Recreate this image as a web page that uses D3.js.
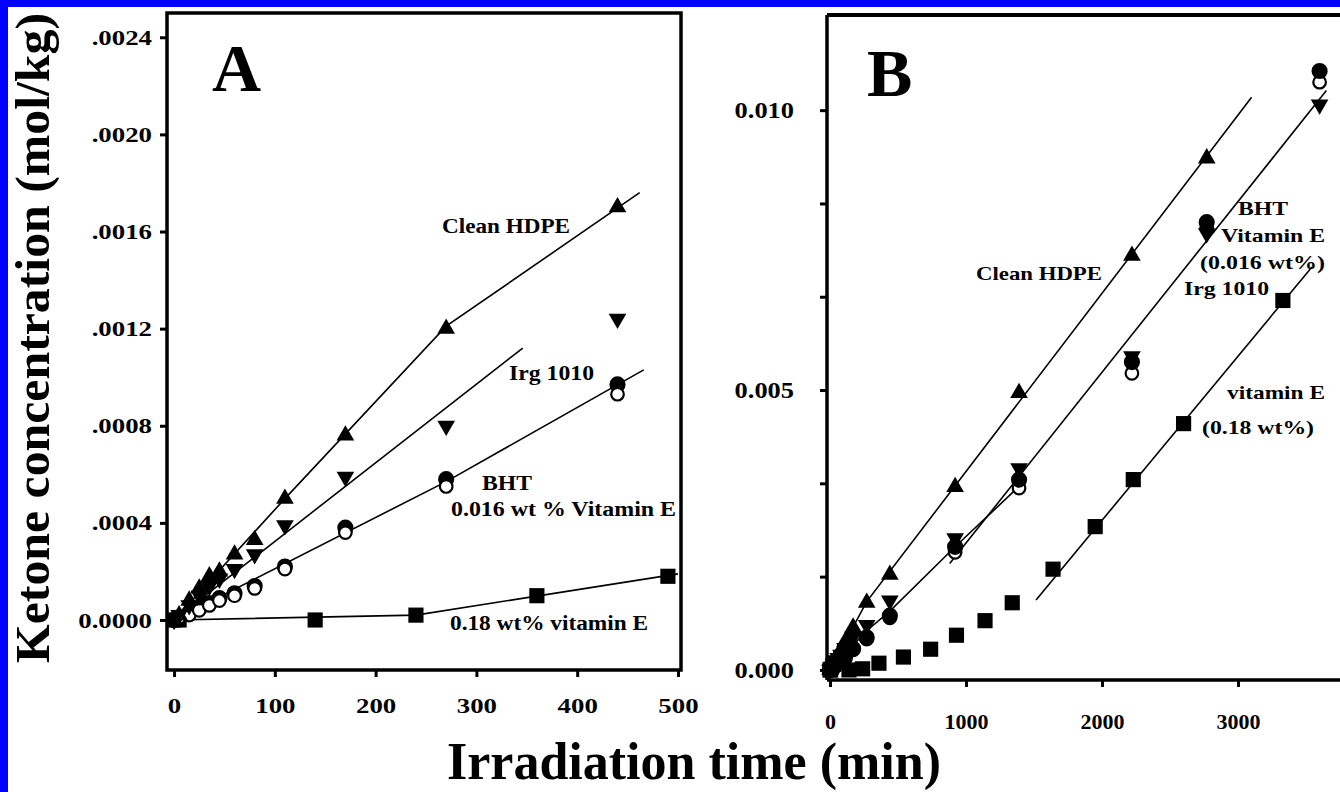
<!DOCTYPE html>
<html>
<head>
<meta charset="utf-8">
<script src="https://cdn.jsdelivr.net/npm/d3@7"></script>
<style>
  body { margin: 0; background: #0000ff; }
  text { font-family: "Liberation Serif", "Times New Roman", serif; font-weight: bold; fill: #000; }
</style>
</head>
<body>
<div id="canvas"></div>
<script>
// ---- panel A data (time in min, ketone in mol/kg)
const timesA = [0, 5, 15, 25, 35, 45, 60, 80, 110, 170, 270, 440];
const cleanA = [0, 0.00002, 0.00008, 0.00013, 0.00018, 0.0002, 0.00027, 0.00033, 0.0005, 0.00076, 0.0012, 0.0017];
const irgA = [0, 0.00002, 0.00006, 0.0001, 0.00014, 0.00017, 0.00021, 0.00027, 0.00039, 0.00059, 0.0008, 0.00124];
const bhtA = [0, 0.00001, 0.00003, 0.00005, 0.00007, 0.00009, 0.00011, 0.00014, 0.00022, 0.00038, 0.00058, 0.00097];
const vitE016A = [0, 0.00001, 0.00002, 0.00004, 0.00006, 0.00008, 0.0001, 0.00013, 0.00021, 0.00036, 0.00055, 0.00093];
const timesE18A = [0, 5, 140, 240, 360, 490];
const vitE18A = [0, 0, 0, 0.00002, 0.0001, 0.00018];

// fitted lines, panel A
const cleanFitA = [[0, 0], [110, 0.0005], [270, 0.00121], [462, 0.00176]];
const irgFitA = [[0, 0], [346, 0.00112]];
const bhtFitA = [[0, 0], [270, 0.00057], [466, 0.00103]];
const vitE18FitA = [[0, 0], [240, 0.00002], [500, 0.00019]];

// ---- panel B data (long irradiation)
const timesLate = [920, 1390, 2220, 2770, 3600];
const cleanLate = [0.00327, 0.00495, 0.0074, 0.00914];
const irgLate = [0.00235, 0.0036, 0.0056, 0.0078, 0.0101];
const bhtLate = [0.0022, 0.0034, 0.0055, 0.008, 0.0107];
const vitE016Late = [0.0021, 0.00325, 0.0053, 0.0079, 0.0105];
const timesE18B = [0, 5, 140, 240, 360, 540, 740, 930, 1140, 1340, 1640, 1950, 2230, 2600, 3330];
const vitE18B = [0, 0, 0, 0.00002, 0.00012, 0.00023, 0.00037, 0.00062, 0.00088, 0.0012, 0.0018, 0.00256, 0.0034, 0.0044, 0.0066];

const cleanFitB = [[0, 0], [270, 0.00122], [3100, 0.01023]];
const bhtFitB1 = [[0, 0], [270, 0.0007], [440, 0.00105], [920, 0.0022], [1400, 0.0033]];
const bhtFitB2 = [[880, 0.0019], [3650, 0.01035]];
const vitE18FitB = [[1515, 0.00125], [3544, 0.0072]];

// ticks
const xTicksA = [0, 100, 200, 300, 400, 500];
const yTicksA = [0, 0.0004, 0.0008, 0.0012, 0.0016, 0.002, 0.0024];
const yLabelsA = ["0.0000", ".0004", ".0008", ".0012", ".0016", ".0020", ".0024"];
const xTicksB = [0, 1000, 2000, 3000];
const yTicksB = [0, 1, 2, 3, 4, 5, 6].map((k) => (k * 0.005) / 3);
const yLabelsB = { 0: "0.000", 3: "0.005", 6: "0.010" };

const zip = (t, v) => v.map((d, i) => [t[i], d]);

const width = 1340;
const height = 792;

const svg = d3.select("#canvas").append("svg")
  .attr("width", width)
  .attr("height", height);

svg.append("rect").attr("width", width).attr("height", height).attr("fill", "#0000ff");
svg.append("rect").attr("x", 8).attr("y", 7).attr("width", width - 8).attr("height", height - 7).attr("fill", "#fff");

// scales
const xA = d3.scaleLinear().domain([-7, 503]).range([167, 681]);
const yA = d3.scaleLinear().domain([-0.000206, 0.0025]).range([670, 13]);
const xB = d3.scaleLinear().domain([-22, 3750]).range([827, 1340]);
const yB = d3.scaleLinear().domain([-0.00018, 0.0117]).range([680, 15]);

// the scanned lettering is a bit wider than the font
function widen(sel, k) {
  sel.each(function () {
    const w = this.getComputedTextLength();
    if (w > 0) d3.select(this).attr("textLength", w * k).attr("lengthAdjust", "spacingAndGlyphs");
  });
}

function styleAxis(size, k) {
  return (g) => {
    g.select(".domain").remove();
    g.selectAll(".tick line").attr("stroke", "#000").attr("stroke-width", 3);
    g.selectAll(".tick text").style("font-size", size + "px").attr("fill", "#000").call(widen, k);
  };
}

// ---------- panel A
const gA = svg.append("g");
gA.append("rect")
  .attr("x", xA(-7)).attr("y", yA(0.0025))
  .attr("width", xA(503) - xA(-7)).attr("height", yA(-0.000206) - yA(0.0025))
  .attr("fill", "none").attr("stroke", "#000").attr("stroke-width", 3.5);

gA.append("g")
  .attr("transform", `translate(${xA(-7)},0)`)
  .call(d3.axisLeft(yA).tickValues(yTicksA).tickSize(7).tickPadding(8)
    .tickFormat((d, i) => yLabelsA[i]))
  .call(styleAxis(22, 1.22));

gA.append("g")
  .attr("transform", `translate(0,${yA(-0.000206)})`)
  .call(d3.axisBottom(xA).tickValues(xTicksA).tickSize(7).tickPadding(20))
  .call(styleAxis(22, 1.22));

// ---------- panel B
const gB = svg.append("g");
gB.append("line")
  .attr("x1", xB(-22)).attr("x2", width).attr("y1", yB(0.0117)).attr("y2", yB(0.0117))
  .attr("stroke", "#000").attr("stroke-width", 4);

gB.append("g")
  .attr("transform", `translate(${xB(-22)},0)`)
  .call(d3.axisLeft(yB).tickValues(yTicksB).tickSize(7).tickPadding(26)
    .tickFormat((d, i) => yLabelsB[i] || ""))
  .call(styleAxis(24, 1.1))
  .call((g) => g.append("line").attr("y1", yB(-0.00018)).attr("y2", yB(0.0117))
    .attr("stroke", "#000").attr("stroke-width", 3.5));

gB.append("g")
  .attr("transform", `translate(0,${yB(-0.00018)})`)
  .call(d3.axisBottom(xB).tickValues(xTicksB).tickSize(7).tickPadding(26).tickFormat(d3.format("d")))
  .call(styleAxis(22, 1.0))
  .call((g) => g.append("line").attr("x1", xB(-22)).attr("x2", width)
    .attr("stroke", "#000").attr("stroke-width", 3.5));

// ---------- drawing helpers
function fitLine(g, x, y, pts) {
  g.append("path")
    .attr("d", d3.line().x((d) => x(d[0])).y((d) => y(d[1]))(pts))
    .attr("fill", "none").attr("stroke", "#000").attr("stroke-width", 1.6);
}

function markers(g, x, y, pts, kind) {
  const sel = g.append("g").selectAll("path").data(pts).enter();
  if (kind === "open" || kind === "dot") {
    sel.append("circle")
      .attr("cx", (d) => x(d[0])).attr("cy", (d) => y(d[1]))
      .attr("r", kind === "open" ? 6.3 : 7)
      .attr("fill", kind === "open" ? "#fff" : "#000")
      .attr("stroke", "#000").attr("stroke-width", 2.2);
    return;
  }
  const sym = kind === "square" ? d3.symbolSquare : d3.symbolTriangle;
  const size = kind === "square" ? 230 : 135;
  sel.append("path")
    .attr("d", d3.symbol().type(sym).size(size))
    .attr("transform", (d) => `translate(${x(d[0])},${y(d[1])})` + (kind === "down" ? " rotate(180)" : ""))
    .attr("fill", "#000");
}

// panel A marks
fitLine(gA, xA, yA, cleanFitA);
fitLine(gA, xA, yA, irgFitA);
fitLine(gA, xA, yA, bhtFitA);
fitLine(gA, xA, yA, vitE18FitA);
markers(gA, xA, yA, zip(timesE18A, vitE18A), "square");
markers(gA, xA, yA, zip(timesA, bhtA), "dot");
markers(gA, xA, yA, zip(timesA, vitE016A), "open");
markers(gA, xA, yA, zip(timesA, irgA), "down");
markers(gA, xA, yA, zip(timesA, cleanA), "up");

// panel B marks
const timesB = timesA.concat(timesLate);
fitLine(gB, xB, yB, cleanFitB);
fitLine(gB, xB, yB, bhtFitB1);
fitLine(gB, xB, yB, bhtFitB2);
fitLine(gB, xB, yB, vitE18FitB);
markers(gB, xB, yB, zip(timesE18B, vitE18B), "square");
markers(gB, xB, yB, zip(timesB, vitE016A.concat(vitE016Late)), "open");
markers(gB, xB, yB, zip(timesB, irgA.concat(irgLate)), "down");
markers(gB, xB, yB, zip(timesB, bhtA.concat(bhtLate)), "dot");
markers(gB, xB, yB, zip(timesB, cleanA.concat(cleanLate)), "up");

// ---------- text
function label(txt, x, y, size, w) {
  const t = svg.append("text").attr("x", x).attr("y", y).style("font-size", size + "px").text(txt);
  if (w) t.attr("textLength", w).attr("lengthAdjust", "spacingAndGlyphs");
}
label("A", 212, 91, 68);
label("Clean HDPE", 442, 233, 20, 128);
label("Irg 1010", 509, 380, 20, 85);
label("BHT", 482, 490, 20, 50);
label("0.016 wt % Vitamin E", 451, 516, 20, 225);
label("0.18 wt% vitamin E", 450, 630, 20, 198);

label("B", 867, 96, 68);
label("Clean HDPE", 976, 280, 19, 126);
label("BHT", 1238, 215, 19, 50);
label("Vitamin E", 1221, 242, 19, 104);
label("(0.016 wt%)", 1200, 269, 19, 125);
label("Irg 1010", 1184, 295, 19, 85);
label("vitamin E", 1227, 399, 19, 98);
label("(0.18 wt%)", 1202, 434, 19, 112);

svg.append("text")
  .attr("transform", "translate(49,338) rotate(-90)")
  .attr("text-anchor", "middle")
  .attr("textLength", 650).attr("lengthAdjust", "spacingAndGlyphs")
  .style("font-size", "48px")
  .text("Ketone concentration (mol/kg)");

svg.append("text")
  .attr("x", 694).attr("y", 779)
  .attr("text-anchor", "middle")
  .style("font-size", "52px")
  .text("Irradiation time (min)");
</script>
</body>
</html>
